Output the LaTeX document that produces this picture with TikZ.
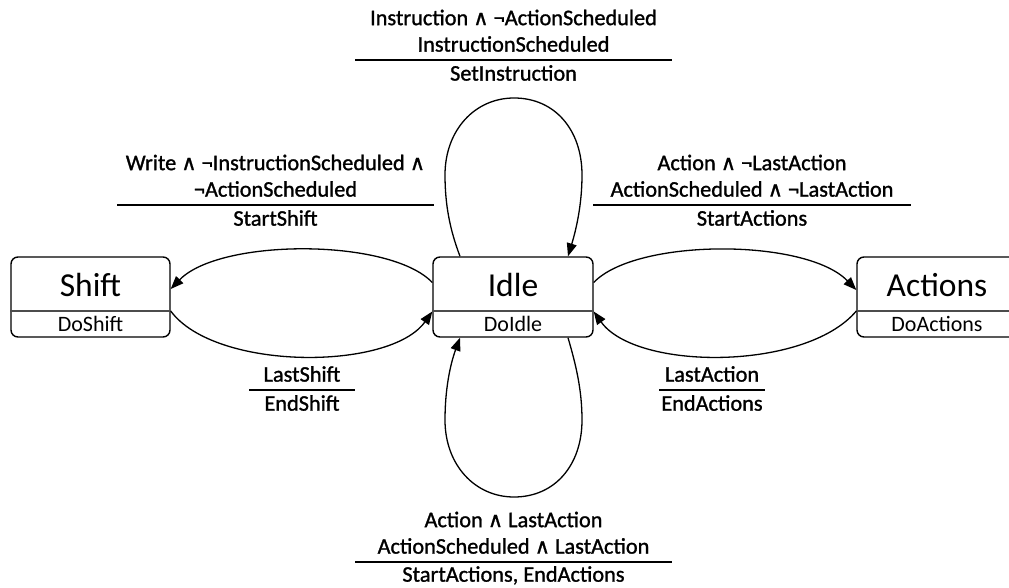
\documentclass[tikz,border=0pt]{standalone}
\usepackage{fontspec}
\setmainfont{Carlito}
\newfontfamily\lblfont[FakeBold=1.2]{Carlito}
\newfontfamily\symfont[FakeBold=1]{DejaVu Sans}
\newcommand{\wedg}{{\symfont\fontsize{21}{21}\selectfont\char"2227}}
\usetikzlibrary{arrows.meta,calc}

\tikzset{
  statebox/.style={draw, line width=1.4pt, rounded corners=7pt,
    minimum height=80pt, inner sep=0pt},
  divider/.style={draw=black!70, line width=1.2pt},
  statename/.style={anchor=base, inner sep=0pt, font=\fontsize{33.5}{38}\selectfont},
  stateact/.style={anchor=base, inner sep=0pt, font=\fontsize{22}{26}\selectfont},
  trans/.style={line width=1.3pt, -{Triangle[length=13pt,width=10pt]}},
  lbl/.style={align=center, inner sep=0pt, font=\lblfont\fontsize{22.3}{26.5}\selectfont},
  guardrule/.style={line width=1.3pt}
}

\begin{document}
\begin{tikzpicture}[x=1pt,y=-1pt]
\useasboundingbox (0,0) rectangle (1009,588);

% states
\node[statebox, minimum width=159pt] (shift) at (90.5,297) {};
\node[statebox, minimum width=160pt] (idle) at (513,297) {};
\node[statebox, minimum width=160pt] (actions) at (937,297) {};

\draw[divider] ([yshift=-14pt]shift.west) -- ([yshift=-14pt]shift.east);
\draw[divider] ([yshift=-14pt]idle.west) -- ([yshift=-14pt]idle.east);
\draw[divider] ([yshift=-14pt]actions.west) -- ([yshift=-14pt]actions.east);

\node[statename] (shiftname) at (90.5,296) {Shift};
\node[stateact] (shiftdo) at (90.5,331) {DoShift};
\node[statename] (idlename) at (513,296) {Idle};
\node[stateact] (idledo) at (513,331) {DoIdle};
\node[statename] (actionsname) at (937,296) {Actions};
\node[stateact] (actionsdo) at (937,331) {DoActions};

% transitions between states
\draw[trans] ([yshift=14.5pt]idle.west) .. controls (390,238) and (220,238) .. ([yshift=8pt]shift.east);
\draw[trans] ([yshift=-14pt]shift.east) .. controls (215,371) and (390,371) .. ([yshift=-14.5pt]idle.west);
\draw[trans] ([yshift=14.5pt]idle.east) .. controls (636,238) and (806,238) .. ([yshift=7pt]actions.west);
\draw[trans] ([yshift=-14pt]actions.west) .. controls (806,371) and (636,371) .. ([yshift=-14.5pt]idle.east);

% self loops on Idle
\draw[trans] ([xshift=-53pt]idle.north) .. controls (450,230) and (445,205) .. (445,175)
  .. controls (445,130) and (475,98) .. (514,98)
  .. controls (555,98) and (582,130) .. (582,175)
  .. controls (582,205) and (576,230) .. ([xshift=55pt]idle.north);
\draw[trans] ([xshift=55pt]idle.south) .. controls (576,365) and (582,390) .. (582,420)
  .. controls (582,465) and (555,497) .. (514,497)
  .. controls (475,497) and (445,465) .. (445,420)
  .. controls (445,390) and (450,365) .. ([xshift=-53pt]idle.south);

% transition labels
\node[lbl, anchor=south] (g1) at (513.5,52) {Instruction \wedg{} ¬ActionScheduled\\InstructionScheduled};
\draw[guardrule] ($(g1.south)+(-158.5,8)$) -- ($(g1.south)+(158.5,8)$);
\node[lbl, anchor=north] (a1) at (513.5,65) {SetInstruction};

\node[lbl, anchor=south] (g2) at (275.5,197) {Write \wedg{} ¬InstructionScheduled \wedg\\¬ActionScheduled};
\draw[guardrule] ($(g2.south)+(-158.5,8)$) -- ($(g2.south)+(158.5,8)$);
\node[lbl, anchor=north] (a2) at (275.5,210) {StartShift};

\node[lbl, anchor=south] (g3) at (752,197) {Action \wedg{} ¬LastAction\\ActionScheduled \wedg{} ¬LastAction};
\draw[guardrule] ($(g3.south)+(-159,8)$) -- ($(g3.south)+(159,8)$);
\node[lbl, anchor=north] (a3) at (752,210) {StartActions};

\node[lbl, anchor=south] (g4) at (302,382) {LastShift};
\draw[guardrule] ($(g4.south)+(-53,8)$) -- ($(g4.south)+(53,8)$);
\node[lbl, anchor=north] (a4) at (302,395) {EndShift};

\node[lbl, anchor=south] (g5) at (712,382) {LastAction};
\draw[guardrule] ($(g5.south)+(-53,8)$) -- ($(g5.south)+(53,8)$);
\node[lbl, anchor=north] (a5) at (712,395) {EndActions};

\node[lbl, anchor=south] (g6) at (513.5,554) {Action \wedg{} LastAction\\ActionScheduled \wedg{} LastAction};
\draw[guardrule] ($(g6.south)+(-158.5,8)$) -- ($(g6.south)+(158.5,8)$);
\node[lbl, anchor=north] (a6) at (513.5,566) {StartActions, EndActions};
\end{tikzpicture}
\end{document}
